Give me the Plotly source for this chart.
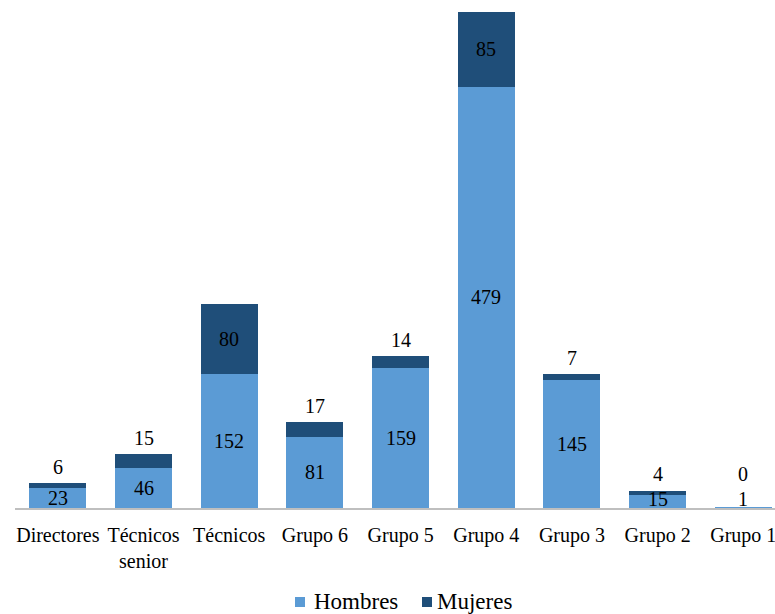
import plotly.graph_objects as go

categories = ["Directores", "Técnicos<br>senior", "Técnicos", "Grupo 6", "Grupo 5",
              "Grupo 4", "Grupo 3", "Grupo 2", "Grupo 1"]
hombres = [23, 46, 152, 81, 159, 479, 145, 15, 1]
mujeres = [6, 15, 80, 17, 14, 85, 7, 4, 0]
series_names = ["Hombres", "Mujeres"]

C_H = "#5B9BD5"
C_M = "#1F4E79"
FONT = "Liberation Serif, Times New Roman, serif"

W, H = 775, 614
ML, MR, MT, MB = 15, 0, 12, 106
PW, PH = W - ML - MR, H - MT - MB


def px_x(px):
    return (px - ML) / PW


def px_y(py):
    return (H - MB - py) / PH


fig = go.Figure()
fig.add_trace(go.Bar(x=list(range(len(categories))), y=hombres, name=series_names[0],
                     marker=dict(color=C_H, line=dict(width=0))))
fig.add_trace(go.Bar(x=list(range(len(categories))), y=mujeres, name=series_names[1],
                     marker=dict(color=C_M, line=dict(width=0))))

ann = []
for i, (h, m) in enumerate(zip(hombres, mujeres)):
    ann.append(dict(x=i, y=max(h / 2, 10), text=str(h), showarrow=False,
                    xref="x", yref="y", yanchor="middle",
                    font=dict(family=FONT, size=20, color="black")))
    if m >= 30:
        ann.append(dict(x=i, y=h + m / 2, text=str(m), showarrow=False,
                        xref="x", yref="y", yanchor="middle",
                        font=dict(family=FONT, size=20, color="black")))
    else:
        ann.append(dict(x=i, y=max(h + m, 20), text=str(m), showarrow=False,
                        xref="x", yref="y", yanchor="bottom", yshift=3,
                        font=dict(family=FONT, size=20, color="black")))

# manual legend (square markers close to the text, as in the reference)
shapes = []
leg_items = [(series_names[0], C_H, 295, 312), (series_names[1], C_M, 422, 435)]
for name, col, mx, tx in leg_items:
    shapes.append(dict(type="rect", xref="paper", yref="paper",
                       x0=px_x(mx), x1=px_x(mx + 10), y0=px_y(607), y1=px_y(597),
                       fillcolor=col, line=dict(width=0)))
    ann.append(dict(x=px_x(tx), y=px_y(601), xref="paper", yref="paper",
                    text=name, showarrow=False, xanchor="left", yanchor="middle",
                    font=dict(family=FONT, size=23, color="black")))

fig.update_layout(
    barmode="stack",
    bargap=0.335,
    width=W, height=H,
    margin=dict(l=ML, r=MR, t=MT, b=MB, autoexpand=False),
    paper_bgcolor="white", plot_bgcolor="white",
    font=dict(family=FONT, size=20, color="black"),
    annotations=ann,
    shapes=shapes,
    showlegend=False,
    xaxis=dict(tickmode="array", tickvals=list(range(len(categories))),
               ticktext=categories, range=[-0.5, 8.37], showgrid=False,
               showline=True, linecolor="#BFBFBF", linewidth=1.5, ticks="",
               ticklabelstandoff=8, zeroline=False, automargin=False,
               ticklabeloverflow="allow",
               tickfont=dict(family=FONT, size=20, color="black")),
    yaxis=dict(range=[0, 564], visible=False, showgrid=False, zeroline=False,
               automargin=False),
)

fig.write_html("out.html", config={"displayModeBar": False},
               post_script="document.body.style.margin='0';document.body.style.overflow='hidden';")
